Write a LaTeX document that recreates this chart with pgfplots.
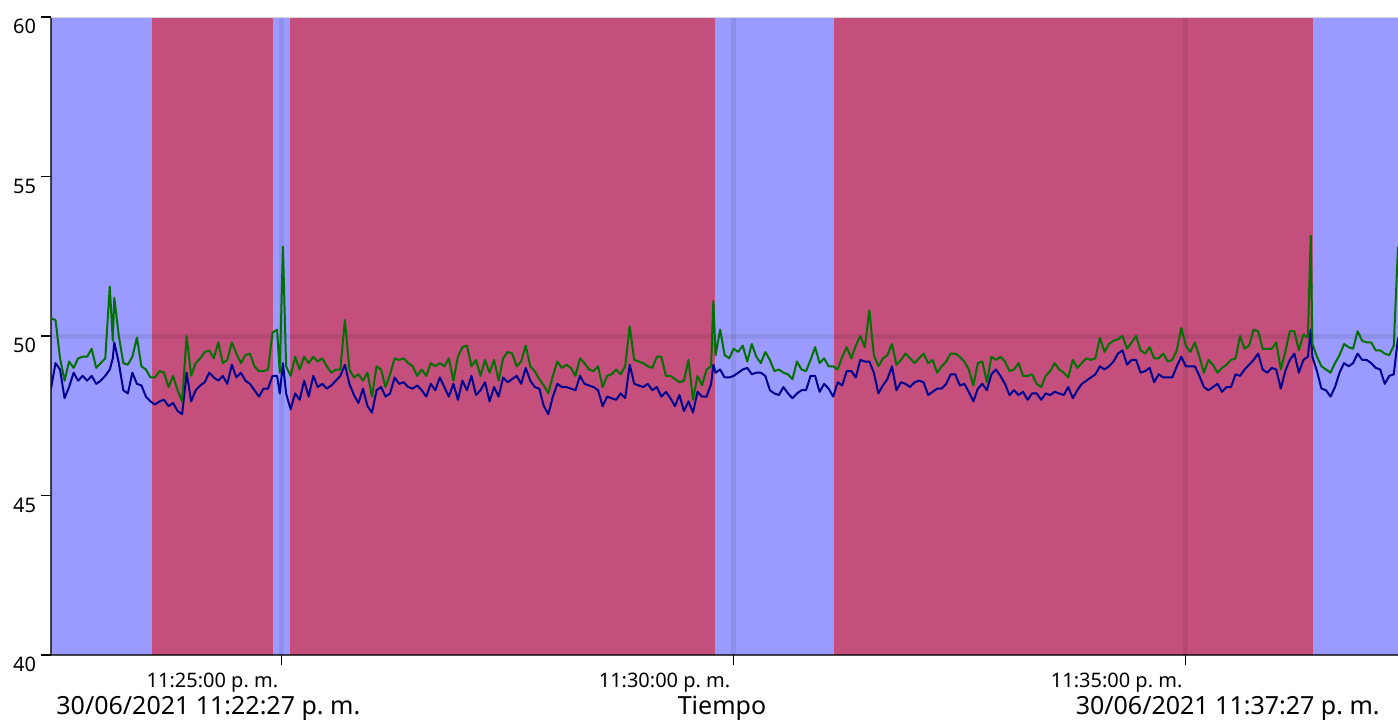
\documentclass[border=0pt]{standalone}
\usepackage{pgfplots}
\pgfplotsset{compat=1.18}
\usepackage{pgfplotstable}
\usepackage{fontspec}
\setmainfont{Noto Sans}
\definecolor{bandblue}{RGB}{155,155,255}
\definecolor{bandred}{RGB}{196,79,125}
\definecolor{linegreen}{RGB}{0,112,0}
\definecolor{lineblue}{RGB}{0,0,145}

\pgfplotstableread{
t g b
0 50.55 48.35
3 50.5 49.15
6 49.3 48.95
9 48.6 48.05
12 49.2 48.4
15 49.0 48.85
18 49.3 48.6
21 49.35 48.75
24 49.35 48.6
27 49.6 48.75
30 49.0 48.5
33 49.15 48.6
36 49.3 48.75
39 51.55 48.95
41 49.85 49.3
42 51.2 49.8
45 50.0 49.15
48 49.15 48.3
51 49.1 48.2
54 49.35 48.85
57 49.95 48.5
60 49.05 48.45
63 48.95 48.1
66 48.7 47.95
69 48.7 47.85
72 48.9 47.95
75 48.85 48.0
78 48.4 47.8
81 48.75 47.9
84 48.3 47.65
87 47.95 47.55
90 50.0 48.85
93 48.75 47.95
96 49.15 48.3
99 49.3 48.45
102 49.5 48.55
105 49.55 48.85
108 49.3 48.7
111 49.8 48.6
114 49.15 48.75
117 49.25 48.5
120 49.8 49.1
123 49.45 48.7
126 49.15 48.85
129 49.4 48.6
132 49.45 48.5
135 49.05 48.3
138 48.9 48.1
141 48.9 48.35
144 48.95 48.35
147 50.1 48.75
150 50.2 48.75
151.8 48.85 48.2
153.9 52.8 49.15
156 49.05 48.2
159 48.75 47.7
162 49.35 48.2
165 48.95 48.0
168 49.35 48.6
171 49.15 48.1
174 49.35 48.75
177 49.2 48.4
180 49.3 48.5
183 49.05 48.35
186 48.85 48.45
189 48.95 48.6
192 48.95 48.75
195 50.5 49.1
198 48.95 48.5
201 48.7 48.15
204 48.8 47.9
207 48.6 48.35
210 48.85 47.8
213 48.1 47.6
216 49.05 48.3
219 48.95 48.4
222 48.4 48.1
225 48.8 48.2
228 49.3 48.7
231 49.25 48.5
234 49.3 48.55
237 49.15 48.4
240 49.05 48.35
243 48.75 48.45
246 48.95 48.3
249 48.75 48.1
252 49.15 48.5
255 49.05 48.3
258 49.15 48.7
261 49.05 48.4
264 49.3 48.1
267 48.6 48.5
270 49.35 48.0
273 49.65 48.6
276 49.7 48.3
279 49.05 48.75
282 49.25 48.15
285 48.75 48.3
288 49.25 48.55
291 48.85 47.95
294 49.25 48.4
297 48.6 48.1
300 49.3 48.7
303 49.5 48.55
306 49.45 48.65
309 49.05 48.75
312 49.2 48.5
315 49.7 49.0
318 49.05 48.6
321 48.9 48.4
324 48.65 48.35
327 48.45 47.8
330 48.2 47.55
333 48.75 48.1
336 49.2 48.5
339 49.0 48.4
342 49.1 48.4
345 49.0 48.35
348 48.75 48.3
351 49.3 48.75
354 49.15 48.5
357 48.95 48.45
360 48.9 48.4
363 49.05 48.3
366 48.4 47.8
369 48.75 48.1
372 48.8 48.05
375 48.95 48.0
378 48.8 48.2
381 49.05 48.05
384 50.3 49.1
387 49.25 48.5
390 49.2 48.45
393 49.15 48.4
396 49.05 48.5
399 49.0 48.3
402 49.35 48.4
405 49.35 48.1
408 48.75 48.25
411 48.75 48.05
414 48.65 47.8
417 48.55 48.15
420 48.6 47.65
423 49.25 47.95
426 48.0 47.6
429 48.75 48.25
432 48.45 48.1
435 48.95 48.1
438 49.05 48.5
439.5 51.1 49.1
441 49.4 48.85
444 50.2 48.95
447 49.4 48.7
450 49.3 48.7
453 49.6 48.75
456 49.5 48.85
459 49.7 48.95
462 49.2 49.0
465 49.75 48.8
468 49.35 48.85
471 49.15 48.85
474 49.5 48.75
477 49.25 48.3
480 48.9 48.2
483 48.95 48.15
486 48.85 48.4
489 48.8 48.2
492 48.65 48.05
495 49.2 48.2
498 48.95 48.3
501 48.9 48.3
504 49.25 48.75
507 49.65 48.75
510 49.15 48.25
513 49.3 48.5
516 49.05 48.35
519 49.05 48.1
522 48.95 48.55
525 49.35 48.45
528 49.65 48.9
531 49.3 48.9
534 49.7 48.7
537 50.0 49.25
540 49.65 49.2
543 50.8 49.2
546 49.4 48.85
549 49.05 48.2
552 49.3 48.45
555 49.4 48.65
558 49.75 49.05
561 49.1 48.3
564 49.25 48.55
567 49.45 48.5
570 49.3 48.4
573 49.15 48.55
576 49.3 48.6
579 49.45 48.55
582 49.15 48.15
585 49.25 48.25
588 48.85 48.35
591 49.05 48.35
594 49.2 48.5
597 49.45 48.8
600 49.45 48.8
603 49.35 48.45
606 49.2 48.5
609 48.95 48.25
612 48.45 47.95
615 49.15 48.35
618 49.2 48.5
621 48.55 48.3
624 49.35 48.8
627 49.25 48.95
630 49.35 48.75
633 49.2 48.5
636 48.9 48.15
639 48.95 48.3
642 49.15 48.15
645 48.75 48.25
648 48.75 48.0
651 48.8 48.2
654 48.5 48.2
657 48.4 48.0
660 48.75 48.2
663 48.9 48.15
666 49.15 48.25
669 48.95 48.2
672 48.85 48.15
675 48.7 48.4
678 49.25 48.05
681 49.0 48.3
684 49.15 48.5
687 49.3 48.6
690 49.25 48.7
693 49.3 48.8
696 49.95 49.05
699 49.5 48.95
702 49.75 49.05
705 49.85 49.2
708 49.9 49.45
711 50.0 49.55
714 49.6 49.1
717 49.8 49.25
720 50.0 49.25
723 49.55 48.85
726 49.45 48.9
729 49.65 49.0
732 49.3 48.55
735 49.3 48.8
738 49.45 48.7
741 49.2 48.7
744 49.25 48.7
747 49.55 49.05
750 50.25 49.35
753 49.7 49.05
756 49.5 49.05
759 49.8 49.05
762 49.35 48.75
765 48.85 48.4
768 49.25 48.3
771 49.1 48.4
774 48.85 48.5
777 49.0 48.25
780 49.1 48.4
783 49.25 48.4
786 49.3 48.8
789 50.0 48.75
792 49.6 48.95
795 49.7 49.1
798 50.2 49.25
801 50.15 49.45
804 49.6 48.95
807 49.6 48.85
810 49.6 49.0
813 49.8 48.95
816 48.95 48.35
819 49.5 48.9
822 50.15 49.25
825 50.15 49.45
828 49.55 48.85
831 50.05 49.25
834 49.95 49.35
835.9 53.15 50.2
837 49.75 49.35
840 49.35 48.9
843 49.05 48.35
846 48.95 48.3
849 48.85 48.1
852 49.15 48.4
855 49.4 48.85
858 49.75 49.15
861 49.65 49.05
864 49.6 49.15
867 50.15 49.45
870 49.85 49.25
873 49.8 49.25
876 49.8 49.15
879 49.55 49.0
882 49.55 48.95
885 49.45 48.5
888 49.4 48.75
891 49.7 48.8
893.8 52.8 49.95
}\data

\begin{document}
\begin{tikzpicture}
\begin{axis}[
  name=ax,
  set layers,
  scale only axis, width=673.5pt, height=319pt,
  at={(0,0)}, anchor=south west,
  xmin=0, xmax=893.8, ymin=40, ymax=60,
  axis x line*=bottom, axis y line*=left,
  axis line style={-, black, opacity=0.7, line width=1pt},
  xtick={153,453,753},
  xticklabels={11:25:00 p.\ m.,11:30:00 p.\ m.,11:35:00 p.\ m.},
  ytick={40,45,50,55,60},
  tick align=outside, major tick length=5pt,
  tick style={black, line width=0.6pt},
  xticklabel style={anchor=north east, inner sep=0pt, yshift=-4pt, xshift=-1.5pt, font=\fontsize{10}{12}\selectfont},
  yticklabel style={anchor=north east, inner sep=0pt, xshift=-2.3pt, yshift=-1pt, font=\fontsize{10}{12}\selectfont},
  /pgf/number format/assume math mode=true,
  xmajorgrids,
  major grid style={black, opacity=0.08, line width=2.5pt},
  extra y ticks={50}, extra y tick labels={},
  extra y tick style={ymajorgrids=true, major tick length=0pt},
  clip=true,
]
\addplot[on layer=axis background, fill=bandblue, draw=none] coordinates {(0,40) (67,40) (67,60) (0,60)} -- cycle;
\addplot[on layer=axis background, fill=bandred, draw=none] coordinates {(67,40) (147.3,40) (147.3,60) (67,60)} -- cycle;
\addplot[on layer=axis background, fill=bandblue, draw=none] coordinates {(147.3,40) (158.3,40) (158.3,60) (147.3,60)} -- cycle;
\addplot[on layer=axis background, fill=bandred, draw=none] coordinates {(158.3,40) (440.6,40) (440.6,60) (158.3,60)} -- cycle;
\addplot[on layer=axis background, fill=bandblue, draw=none] coordinates {(440.6,40) (519.6,40) (519.6,60) (440.6,60)} -- cycle;
\addplot[on layer=axis background, fill=bandred, draw=none] coordinates {(519.6,40) (837.3,40) (837.3,60) (519.6,60)} -- cycle;
\addplot[on layer=axis background, fill=bandblue, draw=none] coordinates {(837.3,40) (893.8,40) (893.8,60) (837.3,60)} -- cycle;
\addplot[lineblue, line width=1pt, line join=round] table[x=t,y=b]{\data};
\addplot[linegreen, line width=1pt, line join=round] table[x=t,y=g]{\data};
\draw[black!15, line width=1.2pt] (rel axis cs:0,1) -- (rel axis cs:1,1);
\end{axis}
\node[anchor=north west, inner sep=0pt, font=\fontsize{12.5}{15}\selectfont] at ([xshift=2.5pt, yshift=-20.5pt]ax.south west) {30/06/2021 11:22:27 p.\ m.};
\node[anchor=north, inner sep=0pt, font=\fontsize{12.5}{15}\selectfont] at ([xshift=-1.25pt, yshift=-20.5pt]ax.south) {Tiempo};
\node[anchor=north east, inner sep=0pt, font=\fontsize{12.5}{15}\selectfont] at ([xshift=-9pt, yshift=-20.5pt]ax.south east) {30/06/2021 11:37:27 p.\ m.};
\pgfresetboundingbox
\path[use as bounding box] (-25.5pt,-32.5pt) rectangle (673.5pt,327.5pt);
\end{tikzpicture}
\end{document}
